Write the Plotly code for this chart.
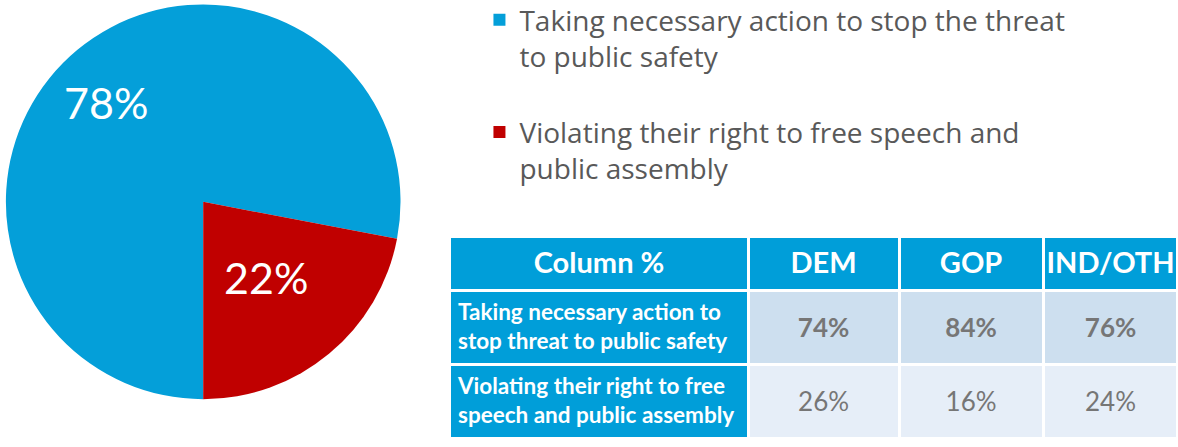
import math
import plotly.graph_objects as go

# ---- data ----
pie_labels = [
    "Taking necessary action to stop the threat<br>to public safety<br> ",
    "Violating their right to free speech and<br>public assembly",
]
pie_values = [78, 22]
pie_colors = ["#049FD9", "#C00000"]

table_header = ["Column %", "DEM", "GOP", "IND/OTH"]
row_labels = [
    "Taking necessary action to<br>stop threat to public safety",
    "Violating their right to free<br>speech and public assembly",
]
dem_vals = ["74%", "26%"]
gop_vals = ["84%", "16%"]
ind_vals = ["76%", "24%"]

FONT = "Lato"
BLUE = "#009ED9"
GRAY = "#767676"

def fmt(vals):
    return [
        "\u00a0<br><span style='font-size:26px'><b>" + vals[0] + "</b></span>",
        "\u00a0<br><span style='font-size:26px'>" + vals[1] + "</span>",
    ]

PIE_X = [0.005, 0.34]
PIE_Y = [0.107, 0.99]
W, H = 1178, 447

fig = go.Figure()

fig.add_trace(go.Pie(
    labels=pie_labels,
    values=pie_values,
    marker=dict(colors=pie_colors, line=dict(width=0)),
    sort=False,
    direction="clockwise",
    rotation=180,
    textinfo="none",
    domain=dict(x=PIE_X, y=PIE_Y),
    showlegend=True,
    hoverinfo="label+percent",
))

# percentage labels placed at each slice's mid-angle (derived from the values)
cx = (PIE_X[0] + PIE_X[1]) / 2
cy = (PIE_Y[0] + PIE_Y[1]) / 2
radius_px = min((PIE_X[1] - PIE_X[0]) * W, (PIE_Y[1] - PIE_Y[0]) * H) / 2
label_frac = [0.68, 0.50]
label_xshift = [-12, 0]
label_yshift = [-4, 0]
total = sum(pie_values)
start = 180.0
for v, frac, sx, sy in zip(pie_values, label_frac, label_xshift, label_yshift):
    span = v / total * 360.0
    mid = math.radians(start + span / 2)
    start += span
    dx = math.sin(mid) * radius_px * frac / W
    dy = math.cos(mid) * radius_px * frac / H
    fig.add_annotation(
        x=cx + dx, y=cy + dy, xref="paper", yref="paper",
        text=f"{v}%", showarrow=False, xshift=sx, yshift=sy,
        font=dict(family=FONT, size=43, color="white"),
        xanchor="center", yanchor="middle",
    )

fig.add_trace(go.Table(
    domain=dict(x=[0.382, 1.0], y=[0.0, 0.472]),
    columnwidth=[296, 150, 143, 134],
    header=dict(
        values=["<b>" + h + "</b>" for h in table_header],
        fill_color=BLUE,
        line=dict(color="white", width=3),
        align="center",
        font=dict(family=FONT, size=29, color="white"),
        height=54,
    ),
    cells=dict(
        values=[
            ["<b>" + r + "</b>" for r in row_labels],
            fmt(dem_vals), fmt(gop_vals), fmt(ind_vals),
        ],
        fill_color=[
            [BLUE, BLUE],
            ["#CDDFEF", "#E6EEF8"],
            ["#CDDFEF", "#E6EEF8"],
            ["#CDDFEF", "#E6EEF8"],
        ],
        line=dict(color="white", width=3),
        align=["left", "center", "center", "center"],
        font=dict(
            family=FONT,
            size=[22.5, 17, 17, 17],
            color=["white", GRAY, GRAY, GRAY],
        ),
        height=74,
    ),
))

fig.update_layout(
    width=W,
    height=H,
    margin=dict(l=0, r=0, t=0, b=0, autoexpand=False),
    paper_bgcolor="white",
    plot_bgcolor="white",
    font=dict(family=FONT),
    legend=dict(
        x=0.407, y=1.011,
        xanchor="left", yanchor="top",
        valign="top",
        font=dict(family="Open Sans", size=28, color="#595959"),
        bgcolor="rgba(0,0,0,0)",
        itemclick=False,
    ),
)

fig.write_html(
    "out.html",
    config={"displayModeBar": False},
    post_script="document.body.style.margin='0';document.body.style.overflow='hidden';",
)
